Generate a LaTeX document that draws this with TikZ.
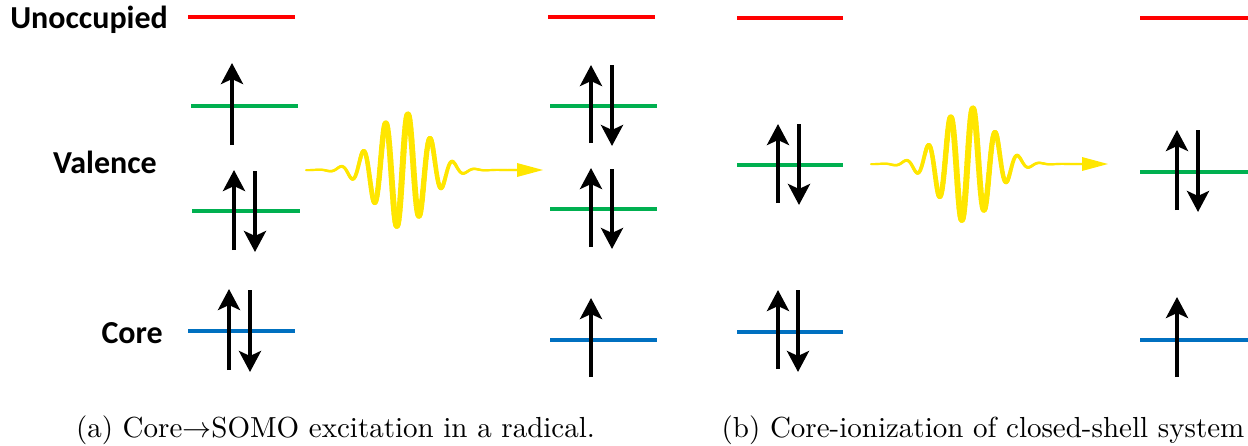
\documentclass[tikz,border=0pt]{standalone}
\usepackage{fontspec}
\newfontfamily\lab{Carlito}
\usetikzlibrary{arrows.meta}
\definecolor{myred}{RGB}{255,0,0}
\definecolor{mygreen}{RGB}{0,176,80}
\definecolor{myblue}{RGB}{0,112,192}
\definecolor{myyellow}{RGB}{255,230,0}
\tikzset{
  lvl/.style={line width=4.5pt},
  unocc/.style={lvl, draw=myred},
  val/.style={lvl, draw=mygreen},
  cor/.style={lvl, draw=myblue},
  spin/.style={line width=4pt, -{Stealth[length=21pt,width=22pt,inset=5pt]}},
  lbl/.style={font=\lab\bfseries\fontsize{32}{36}\selectfont, anchor=base east, inner sep=0pt},
  capt/.style={font=\fontsize{10}{12}\selectfont, scale=2.9, anchor=base, inner sep=0pt},
  wavestyle/.style={draw=myyellow, line cap=round},
}
\newcommand\mywave[2]{%
  \foreach \i in {0,0.5,...,210.5} {
    \pgfmathsetmacro\xa{306+\i}
    \pgfmathsetmacro\xb{\xa+0.5}
    \pgfmathsetmacro\ya{#2-57*exp(-1*(\xa-402)*(\xa-402)/1352)*cos(16*(\xa-408))}
    \pgfmathsetmacro\yb{#2-57*exp(-1*(\xb-402)*(\xb-402)/1352)*cos(16*(\xb-408))}
    \pgfmathsetmacro\ww{2+4*exp(-1*(\xa-402)*(\xa-402)/2500)}
    \draw[wavestyle, line width=\ww pt] (\xa+#1,\ya) -- (\xb+#1,\yb);
  }
  \fill[myyellow] (517+#1,#2-7) -- (543+#1,#2) -- (517+#1,#2+7) -- cycle;
}
\begin{document}
\begin{tikzpicture}[x=1pt,y=-1pt]
\useasboundingbox (0,0) rectangle (1248,445);
% labels
\node[lbl] (unoccl) at (168,28) {Unoccupied};
\node[lbl] (vall) at (157,173) {Valence};
\node[lbl] (corel) at (163,343) {Core};
% panel a, left
\draw[unocc] (188,17) -- (295,17);
\draw[val] (191,106) -- (298,106);
\draw[val] (192,211) -- (300,211);
\draw[cor] (188,331) -- (295,331);
\draw[spin] (232,145) -- (232,63);
\draw[spin] (234,250) -- (234,170);
\draw[spin] (255,171) -- (255,252);
\draw[spin] (229,370) -- (229,289);
\draw[spin] (250,290) -- (250,372);
% wave a
\mywave{0}{170}
% panel a, right
\draw[unocc] (548,17) -- (655,17);
\draw[val] (550,106) -- (657,106);
\draw[val] (550,209) -- (657,209);
\draw[cor] (550,340) -- (657,340);
\draw[spin] (591,143) -- (591,65);
\draw[spin] (612,65) -- (612,146);
\draw[spin] (591,247) -- (591,168);
\draw[spin] (612,169) -- (612,249);
\draw[spin] (591,377) -- (591,298);
% panel b, left
\draw[unocc] (737,18) -- (843,18);
\draw[val] (737,165) -- (843,165);
\draw[cor] (737,332) -- (843,332);
\draw[spin] (778,203) -- (778,124);
\draw[spin] (799,124) -- (799,205);
\draw[spin] (778,369) -- (778,290);
\draw[spin] (798,290) -- (798,372);
% wave b
\mywave{565}{164}
% panel b, right
\draw[unocc] (1140,18) -- (1248,18);
\draw[val] (1140,172) -- (1248,172);
\draw[cor] (1140,340) -- (1248,340);
\draw[spin] (1177,210) -- (1177,130);
\draw[spin] (1198,130) -- (1198,212);
\draw[spin] (1177,377) -- (1177,297);
% captions
\node[capt] (capa) at (335.5,437) {(a) Core$\rightarrow$SOMO excitation in a radical.};
\node[capt] (capb) at (983,437) {(b) Core-ionization of closed-shell system};
\end{tikzpicture}
\end{document}
